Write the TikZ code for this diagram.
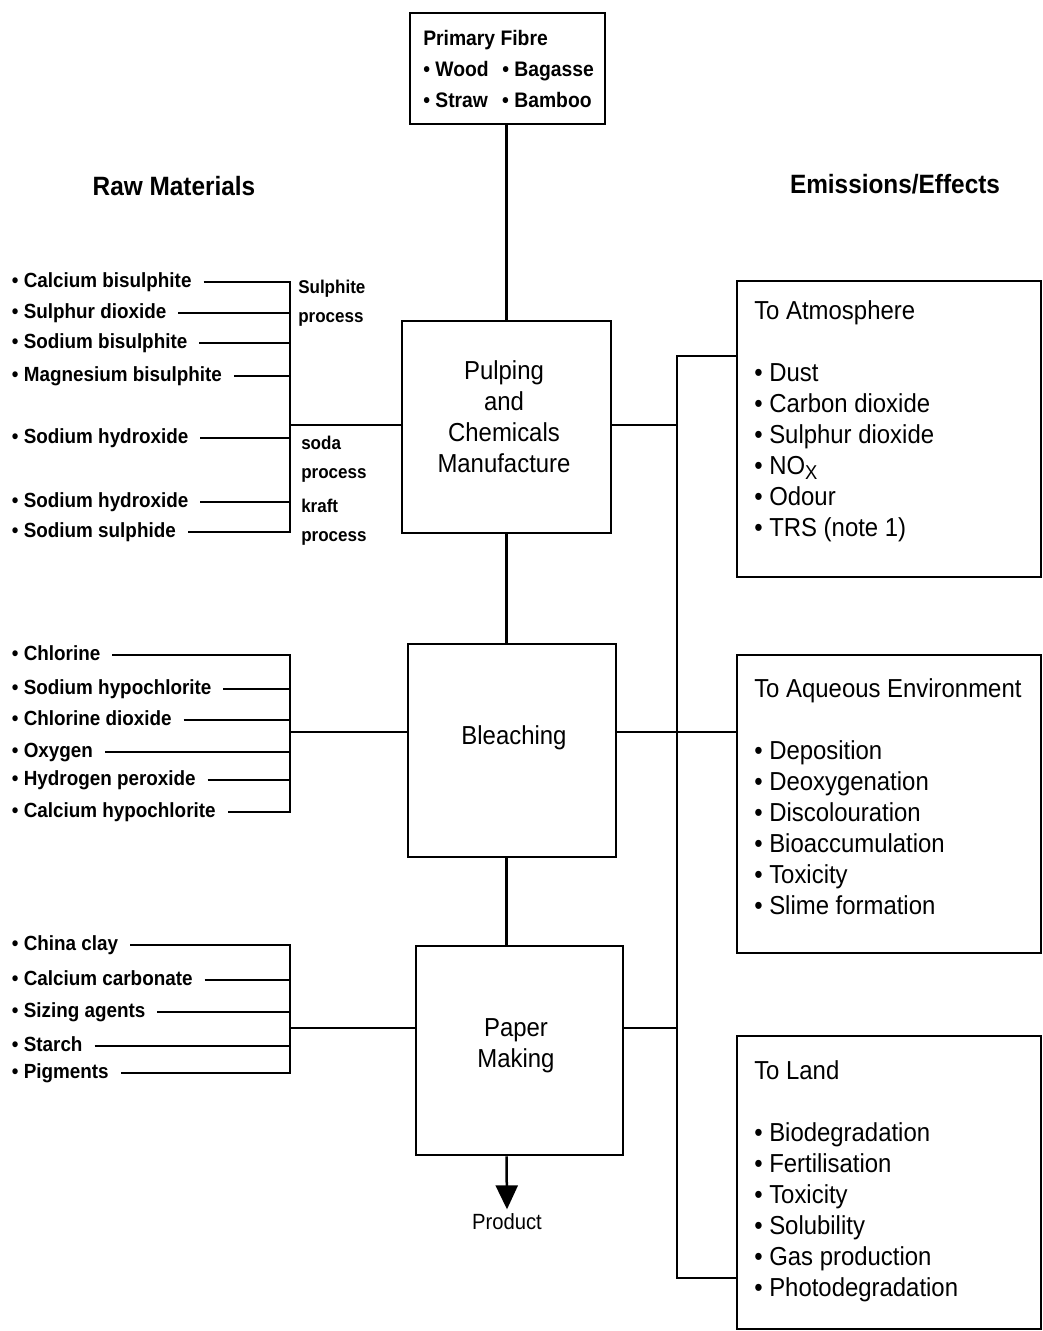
\documentclass[tikz,border=0pt]{standalone}
\usepackage{fontspec}
\setmainfont{Liberation Sans}[FakeStretch=0.92]
\usetikzlibrary{arrows.meta}

\begin{document}
\begin{tikzpicture}[x=1pt,y=-1pt,line width=2.5pt,
	stage/.style={draw,inner sep=0pt},
	stagetxt/.style={align=center,font=\fontsize{26}{31}\selectfont},
	sinktxt/.style={align=left,anchor=north west,inner sep=0pt,font=\fontsize{26}{31}\selectfont},
	chem/.style={anchor=west,inner sep=0pt,outer xsep=12pt,text height=15pt,text depth=4pt,font=\bfseries\fontsize{20.5}{31}\selectfont},
	proc/.style={anchor=north west,inner sep=0pt,align=left,font=\bfseries\fontsize{18.5}{29}\selectfont},
	head/.style={font=\bfseries\fontsize{26.5}{30}\selectfont}]
	\useasboundingbox (0,0) rectangle (1043,1331);
	% process stages
	\node[stage,minimum width=195pt,minimum height=111pt] (fibre) at (507.5,68.5) {};
	\node[stage,minimum width=209pt,minimum height=212pt] (pulp) at (506.5,427) {};
	\node[stage,minimum width=208pt,minimum height=213pt] (bleach) at (512,750.5) {};
	\node[stage,minimum width=207pt,minimum height=209pt] (paper) at (519.5,1050.5) {};
	\node[anchor=north west,inner sep=0pt,align=left,font=\bfseries\fontsize{21}{31}\selectfont] (fibretxt) at (422,29) {Primary Fibre\\\makebox[79pt][l]{• Wood}• Bagasse\\\makebox[79pt][l]{• Straw}• Bamboo};
	\node[stagetxt] (pulptxt) at (504,416.5) {Pulping\\and\\Chemicals\\Manufacture};
	\node[stagetxt] (bleachtxt) at (514,738) {Bleaching};
	\node[stagetxt] (papertxt) at (516,1045.5) {Paper\\Making};
	\node[font=\fontsize{22}{26}\selectfont] (product) at (507,1222) {Product};
	% emissions
	\node[stage,minimum width=304pt,minimum height=296pt] (atmos) at (889,429) {};
	\node[stage,minimum width=304pt,minimum height=298pt] (aqua) at (889,804) {};
	\node[stage,minimum width=304pt,minimum height=293pt] (land) at (889,1182.5) {};
	\node[sinktxt] (atmostxt) at (753,299) {To Atmosphere\\[31pt]• Dust\\• Carbon dioxide\\• Sulphur dioxide\\• NO\raisebox{-5pt}{\fontsize{20}{20}\selectfont X}\\• Odour\\• TRS (note 1)};
	\node[sinktxt] (aquatxt) at (753,677) {To Aqueous Environment\\[31pt]• Deposition\\• Deoxygenation\\• Discolouration\\• Bioaccumulation\\• Toxicity\\• Slime formation};
	\node[sinktxt] (landtxt) at (753,1059) {To Land\\[31pt]• Biodegradation\\• Fertilisation\\• Toxicity\\• Solubility\\• Gas production\\• Photodegradation};
	\node[head] (rawhead) at (174,186) {Raw Materials};
	\node[head] (emhead) at (895,184) {Emissions/Effects};
	% raw materials
	\foreach \n/\y/\t in {cb/282/Calcium bisulphite,sd/313/Sulphur dioxide,sb/343/Sodium bisulphite,mb/376/Magnesium bisulphite,sh/438/Sodium hydroxide,kh/502/Sodium hydroxide,ks/532/Sodium sulphide}
		\node[chem] (\n) at (0,\y) {• \t};
	\foreach \n/\y/\t in {cl/655/Chlorine,nh/689/Sodium hypochlorite,cd/720/Chlorine dioxide,ox/752/Oxygen,hp/780/Hydrogen peroxide,ch/812/Calcium hypochlorite}
		\node[chem] (\n) at (0,\y) {• \t};
	\foreach \n/\y/\t in {cy/945/China clay,ca/980/Calcium carbonate,sa/1012/Sizing agents,st/1046/Starch,pg/1073/Pigments}
		\node[chem] (\n) at (0,\y) {• \t};
	\node[proc] (sulproc) at (297,279) {Sulphite\\process};
	\node[proc] (sodaproc) at (300,435) {soda\\process};
	\node[proc] (kraftproc) at (300,498) {kraft\\process};
	\coordinate (pulpjoin) at (290,425);
	\coordinate (bleachjoin) at (290,732);
	\coordinate (paperjoin) at (290,1028);
	\coordinate (trunktop) at (677,356);
	\coordinate (trunkbot) at (677,1278);
	% brackets
	\draw (cb.east) -- (cb.east -| pulpjoin) -- (ks.east -| pulpjoin) -- (ks.east);
	\foreach \n in {sd,sb,mb,sh,kh} \draw (\n.east) -- (\n.east -| pulpjoin);
	\draw (cl.east) -- (cl.east -| bleachjoin) -- (ch.east -| bleachjoin) -- (ch.east);
	\foreach \n in {nh,cd,ox,hp} \draw (\n.east) -- (\n.east -| bleachjoin);
	\draw (cy.east) -- (cy.east -| paperjoin) -- (pg.east -| paperjoin) -- (pg.east);
	\foreach \n in {ca,sa,st} \draw (\n.east) -- (\n.east -| paperjoin);
	\draw (pulpjoin) -- (pulpjoin -| pulp.west);
	\draw (bleachjoin) -- (bleachjoin -| bleach.west);
	\draw (paperjoin) -- (paperjoin -| paper.west);
	% main flow
	\draw (pulp.north |- fibre.south) -- (pulp.north);
	\draw (pulp.south) -- (pulp.south |- bleach.north);
	\draw (pulp.south |- bleach.south) -- (pulp.south |- paper.north);
	\draw[-{Triangle[width=22pt,length=24pt]}] (pulp.south |- paper.south) -- (product.north);
	% emissions trunk
	\draw (pulp.east |- pulpjoin) -- (pulpjoin -| trunktop);
	\draw (atmos.west |- trunktop) -- (trunktop) -- (trunkbot) -- (land.west |- trunkbot);
	\draw (bleach.east |- bleachjoin) -- (aqua.west |- bleachjoin);
	\draw (paper.east |- paperjoin) -- (paperjoin -| trunktop);
\end{tikzpicture}
\end{document}
